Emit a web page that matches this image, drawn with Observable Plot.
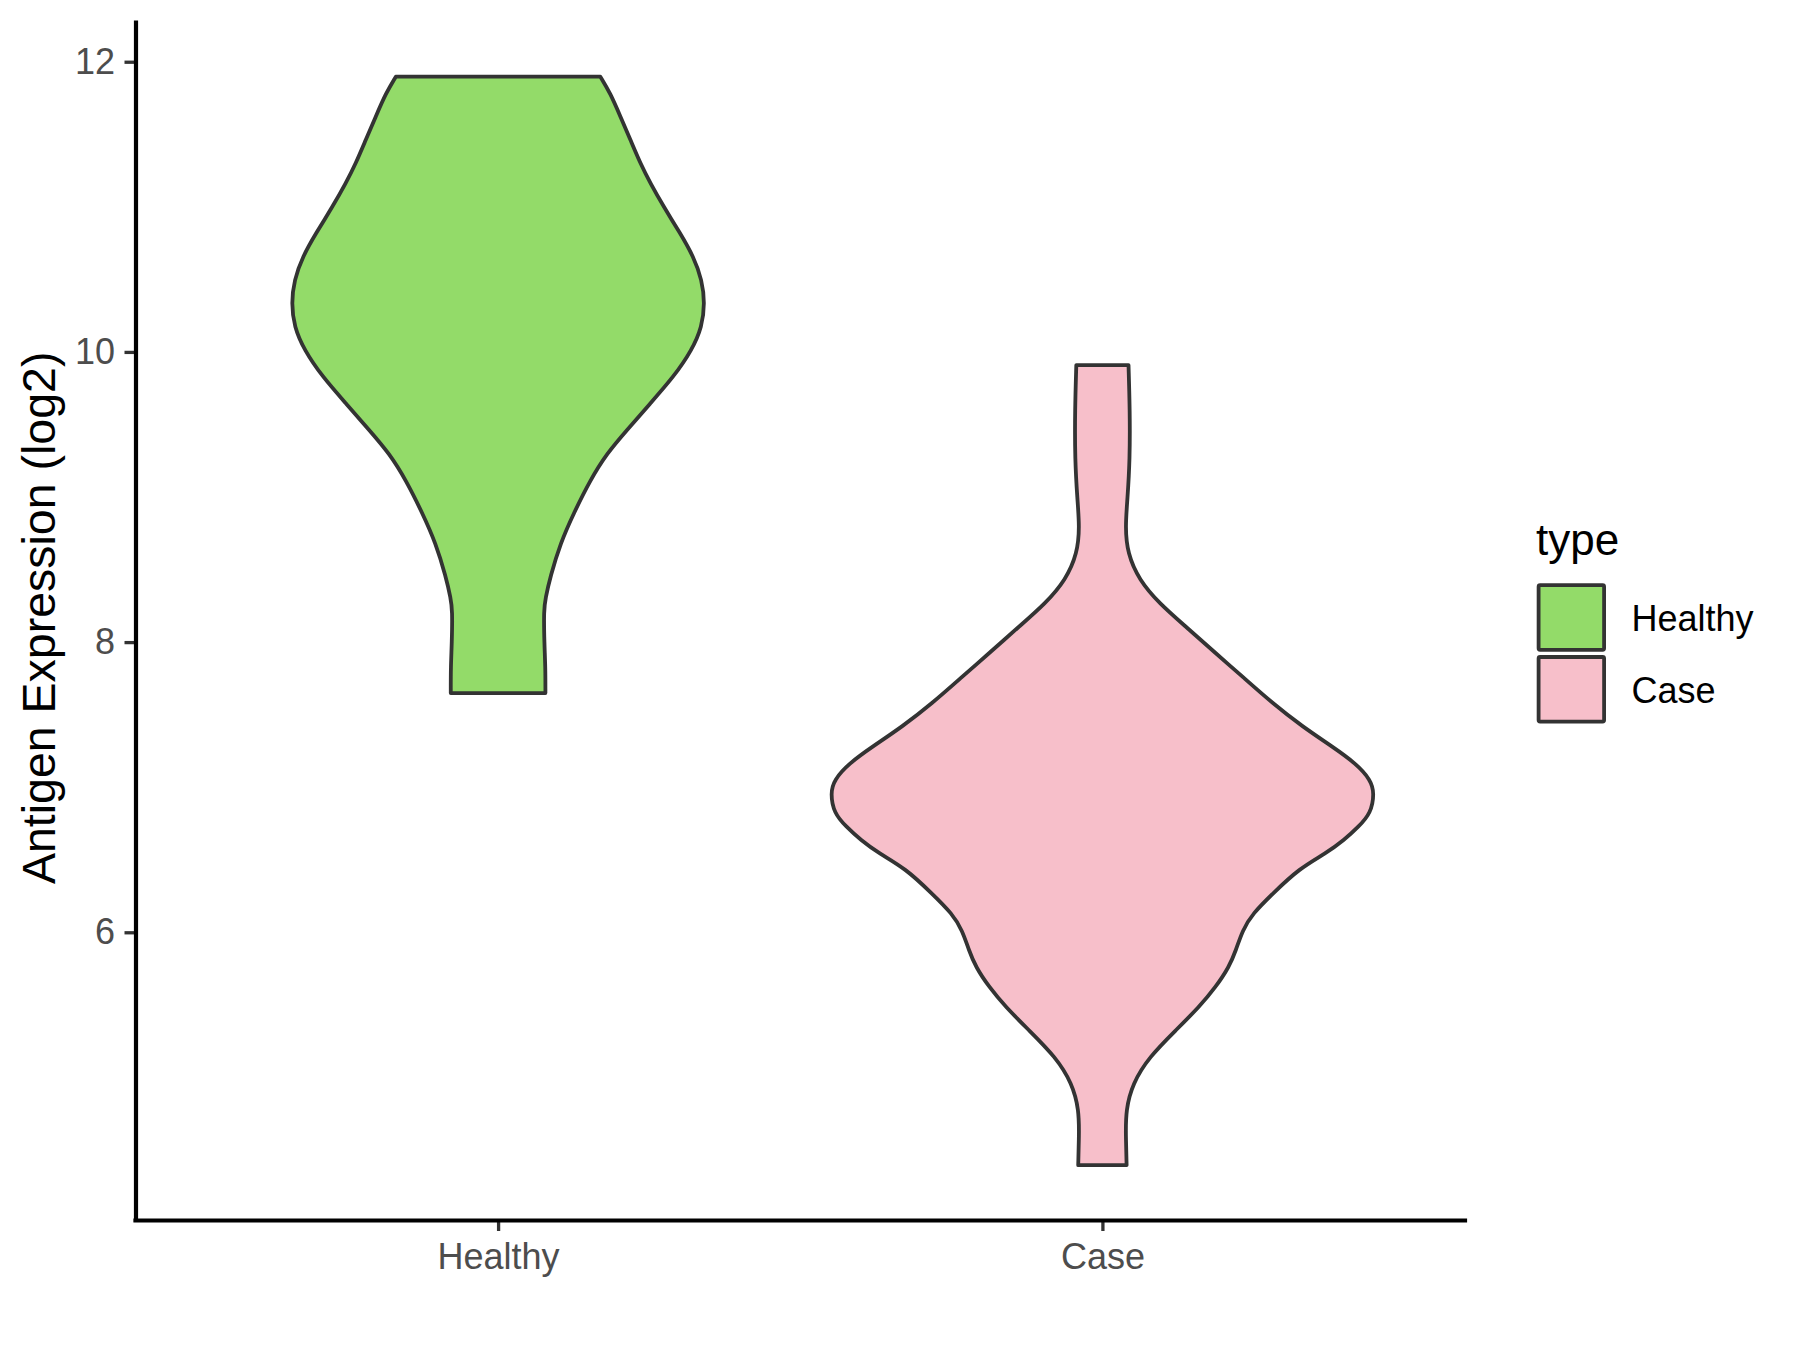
<!DOCTYPE html>
<html>
<head>
<meta charset="utf-8">
<script src="https://cdn.jsdelivr.net/npm/d3@7"></script>
<script src="https://cdn.jsdelivr.net/npm/@observablehq/plot@0.6"></script>
<style>
  html, body { margin: 0; padding: 0; background: #ffffff; }
  #wrap { position: relative; width: 1800px; height: 1350px; font-family: "Liberation Sans", Arial, Helvetica, sans-serif; }
  #wrap > svg { position: absolute; left: 0; top: 0; }
</style>
</head>
<body>
<div id="wrap"></div>
<script>
// ---- data ----
const groups = ["Healthy", "Case"];
const groupColors = ["#93DB69", "#F7BFCA"];

// Violin outlines: expression value and relative half-width (1 = widest violin)
const healthyValue = [11.897, 11.782, 11.621, 11.46, 11.30, 11.162, 11.0, 10.817, 10.656, 10.495, 10.335, 10.174, 10.013, 9.829, 9.646, 9.462, 9.301, 9.117, 8.888, 8.681, 8.451, 8.30, 8.221, 7.992, 7.830, 7.649];
const healthyWidth = [0.376, 0.413, 0.450, 0.487, 0.523, 0.560, 0.609, 0.670, 0.719, 0.750, 0.760, 0.750, 0.713, 0.646, 0.560, 0.474, 0.400, 0.339, 0.278, 0.229, 0.192, 0.174, 0.168, 0.170, 0.174, 0.174];

const caseValue = [9.909, 9.60, 9.255, 8.98, 8.795, 8.612, 8.428, 8.267, 8.106, 7.923, 7.762, 7.578, 7.417, 7.279, 7.164, 7.05, 6.958, 6.82, 6.728, 6.636, 6.544, 6.44, 6.266, 6.128, 6.013, 5.876, 5.761, 5.623, 5.485, 5.325, 5.141, 4.958, 4.774, 4.60, 4.395];
const caseWidth  = [0.096, 0.101, 0.101, 0.092, 0.084, 0.092, 0.135, 0.209, 0.307, 0.417, 0.515, 0.626, 0.736, 0.846, 0.932, 0.987, 1.000, 0.987, 0.942, 0.889, 0.822, 0.724, 0.626, 0.552, 0.515, 0.491, 0.466, 0.417, 0.356, 0.270, 0.172, 0.111, 0.086, 0.086, 0.089];

const yTicks = [6, 8, 10, 12];
const yDomain = [4.017, 12.269];
const xDomain = [0.4, 2.6];
const yLabel = "Antigen Expression (log2)";
const legendTitle = "type";

// ---- table for the library ----
const violinRows = [];
[[healthyValue, healthyWidth], [caseValue, caseWidth]].forEach(([vals, ws], i) => {
  vals.forEach((v, j) => violinRows.push({group: groups[i], pos: i + 1, value: v, width: ws[j]}));
});

const FONT = '"Liberation Sans", Arial, Helvetica, sans-serif';
const halfMax = 0.45; // violin width 0.9 of a category slot

const plot = Plot.plot({
  width: 1800,
  height: 1350,
  marginLeft: 135.5,
  marginRight: 335,
  marginTop: 22.7,
  marginBottom: 130,
  style: {fontFamily: FONT, background: "white", overflow: "visible"},
  x: {domain: xDomain, axis: null},
  y: {domain: yDomain, axis: null},
  color: {domain: groups, range: groupColors},
  marks: [
    Plot.areaX(violinRows, {
      y: "value",
      x1: d => d.pos - halfMax * d.width,
      x2: d => d.pos + halfMax * d.width,
      z: "group",
      fill: "group",
      stroke: "#333333",
      strokeWidth: 3.8,
      strokeLinejoin: "round",
      curve: "basis"
    }),
    Plot.axisY({
      ticks: yTicks, tickSize: 11, tickPadding: 10, fontSize: 36,
      stroke: "#333333", strokeWidth: 3.3, fill: "#4D4D4D", label: null
    }),
    Plot.axisX({
      ticks: [1, 2], tickFormat: i => groups[i - 1], tickSize: 11, tickPadding: 12, fontSize: 36,
      stroke: "#333333", strokeWidth: 3.3, fill: "#4D4D4D", label: null
    }),
    Plot.ruleX([xDomain[0]], {stroke: "black", strokeWidth: 4.2, strokeLinecap: "square"}),
    Plot.ruleY([yDomain[0]], {stroke: "black", strokeWidth: 4.2, strokeLinecap: "square"}),
    Plot.text([yLabel], {
      frameAnchor: "left", text: d => d, rotate: -90, dx: -95.4, dy: -4,
      fontSize: 46.5, lineAnchor: "middle", textAnchor: "middle", fill: "black"
    })
  ]
});

const wrap = document.getElementById("wrap");
wrap.appendChild(plot);

// ---- legend ----
const ns = "http://www.w3.org/2000/svg";
const leg = document.createElementNS(ns, "svg");
leg.setAttribute("width", 1800);
leg.setAttribute("height", 1350);
leg.style.pointerEvents = "none";
leg.setAttribute("font-family", FONT);
const t = document.createElementNS(ns, "text");
t.setAttribute("x", 1536);
t.setAttribute("y", 555);
t.setAttribute("font-size", 44);
t.setAttribute("fill", "black");
t.textContent = legendTitle;
leg.appendChild(t);
groups.forEach((g, i) => {
  const top = 583.3 + i * 71.8;
  const r = document.createElementNS(ns, "rect");
  r.setAttribute("x", 1538.6);
  r.setAttribute("y", top + 1.9);
  r.setAttribute("width", 65.5);
  r.setAttribute("height", 64.6);
  r.setAttribute("rx", 1.5);
  r.setAttribute("fill", groupColors[i]);
  r.setAttribute("stroke", "#333333");
  r.setAttribute("stroke-width", 3.8);
  leg.appendChild(r);
  const lt = document.createElementNS(ns, "text");
  lt.setAttribute("x", 1631.5);
  lt.setAttribute("y", top + 47.7);
  lt.setAttribute("font-size", 36);
  lt.setAttribute("fill", "black");
  lt.textContent = g;
  leg.appendChild(lt);
});
wrap.appendChild(leg);
</script>
</body>
</html>
